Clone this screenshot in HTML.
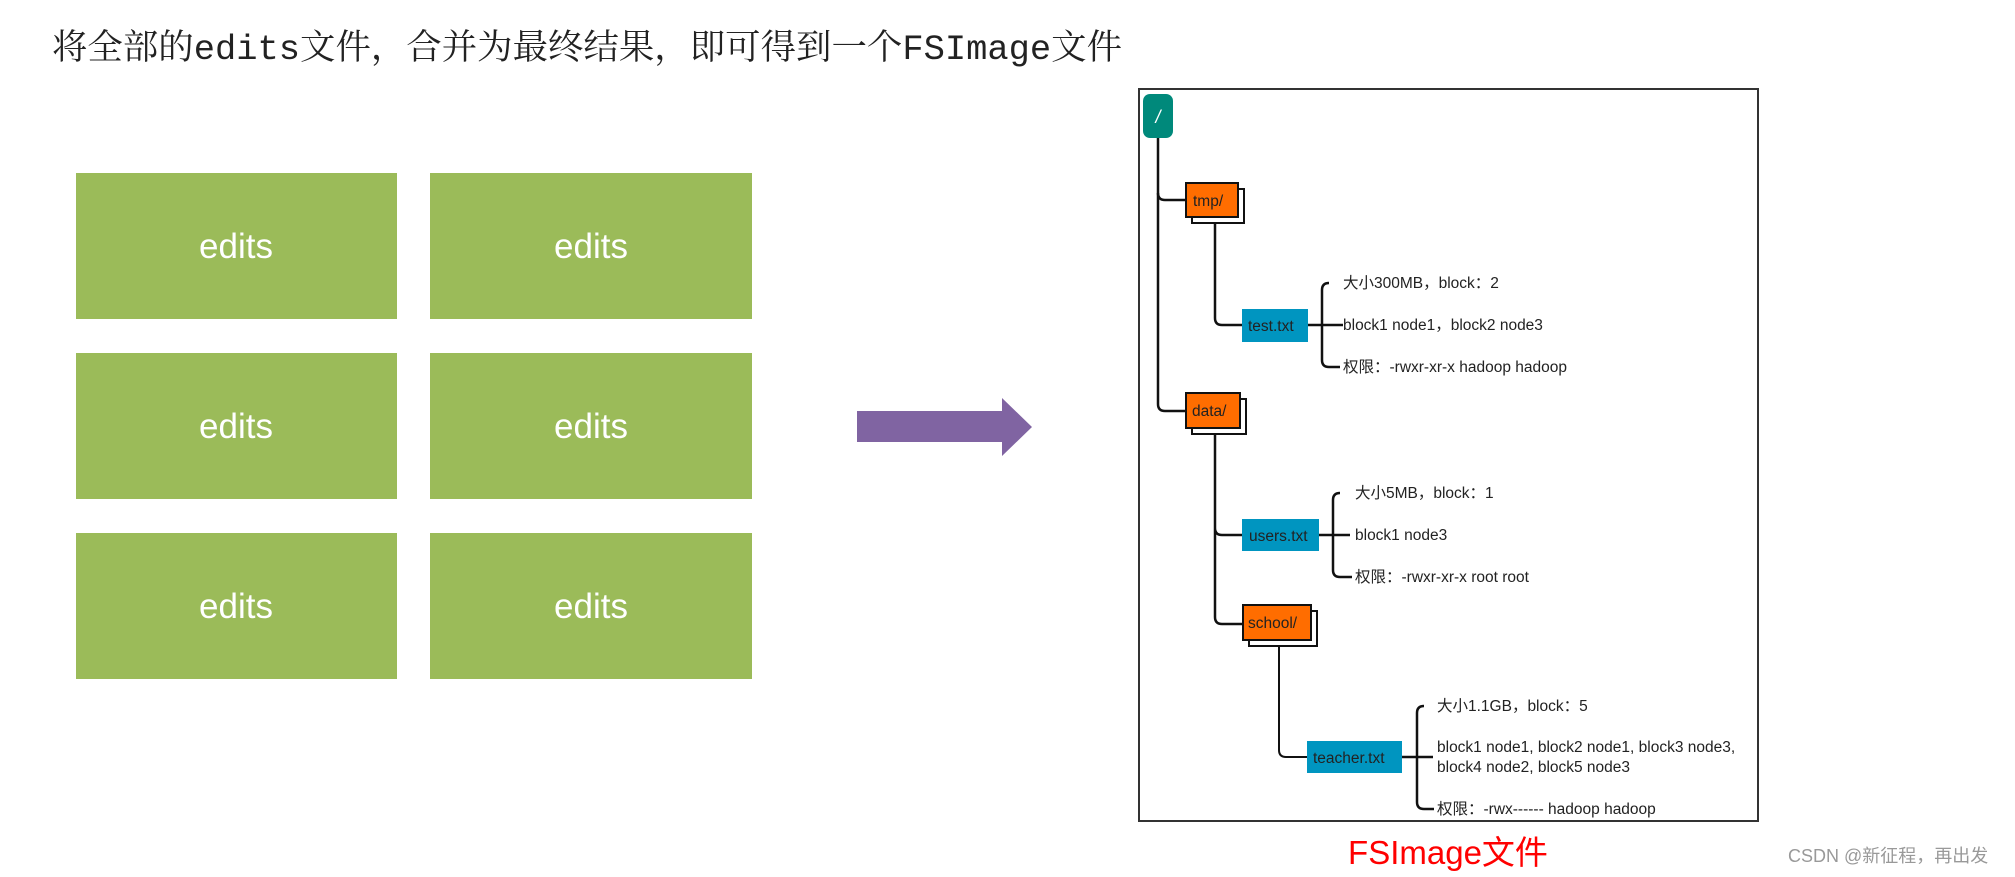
<!DOCTYPE html>
<html><head><meta charset="utf-8"><style>
html,body{margin:0;padding:0;background:#fff;width:2015px;height:877px;overflow:hidden}
</style></head><body>
<svg width="2015" height="877" xmlns="http://www.w3.org/2000/svg">
<text x="52" y="59" font-family="Liberation Mono, Noto Serif CJK SC, monospace" font-size="35" fill="#222" textLength="1070" lengthAdjust="spacingAndGlyphs">将全部的edits文件，合并为最终结果，即可得到一个FSImage文件</text>
<g fill="#9BBB59">
<rect x="76" y="173" width="321" height="146"/><rect x="430" y="173" width="322" height="146"/>
<rect x="76" y="353" width="321" height="146"/><rect x="430" y="353" width="322" height="146"/>
<rect x="76" y="533" width="321" height="146"/><rect x="430" y="533" width="322" height="146"/>
</g>
<g fill="#fff" font-family="Liberation Sans, sans-serif" font-size="35" text-anchor="middle">
<text x="236" y="258">edits</text><text x="591" y="258">edits</text>
<text x="236" y="438">edits</text><text x="591" y="438">edits</text>
<text x="236" y="618">edits</text><text x="591" y="618">edits</text>
</g>
<polygon points="857,411 1002,411 1002,398 1032,427 1002,456 1002,442 857,442" fill="#8064A2"/>
<rect x="1139" y="89" width="619" height="732" fill="none" stroke="#333" stroke-width="2"/>
<g fill="none" stroke="#111" stroke-width="2.5">
<path d="M1158 138 V404 Q1158 411 1165 411 H1186"/>
<path d="M1158 193 Q1158 200 1165 200 H1186"/>
<path d="M1215 223 V318 Q1215 325 1222 325 H1242"/>
<path d="M1308 325 H1343 M1329 283 Q1322 283 1322 290 V360 Q1322 367 1329 367 H1340"/>
<path d="M1215 428 V528 Q1215 535 1222 535 H1242 M1215 528 V617 Q1215 624 1222 624 H1243"/>
<path d="M1319 535 H1350 M1340 493 Q1333 493 1333 500 V570 Q1333 577 1340 577 H1352"/>
<path d="M1279 646 V750 Q1279 757 1286 757 H1307" stroke-width="2"/>
<path d="M1402 757 H1433 M1424 706 Q1417 706 1417 713 V802 Q1417 809 1424 809 H1434"/>
</g>
<rect x="1143" y="94" width="30" height="44" rx="7" fill="#00897B"/>
<text x="1158" y="123" font-family="Liberation Sans,sans-serif" font-size="18" fill="#fff" text-anchor="middle" font-style="italic">/</text>
<g stroke="#111" stroke-width="2">
<rect x="1192" y="189" width="52" height="34" fill="#fff"/><rect x="1186" y="183" width="52" height="34" fill="#FF6D00"/>
<rect x="1192" y="399" width="54" height="35" fill="#fff"/><rect x="1186" y="393" width="54" height="35" fill="#FF6D00"/>
<rect x="1249" y="611" width="68" height="35" fill="#fff"/><rect x="1243" y="605" width="68" height="35" fill="#FF6D00"/>
</g>
<g fill="#0095C0">
<rect x="1242" y="309" width="66" height="33"/><rect x="1242" y="519" width="77" height="32"/><rect x="1307" y="741" width="95" height="32"/>
</g>
<g font-family="Liberation Sans, Noto Sans CJK SC, sans-serif" font-size="15.5" fill="#222">
<text x="1193" y="206">tmp/</text><text x="1192" y="416">data/</text><text x="1248" y="628">school/</text>
<text x="1248" y="331">test.txt</text><text x="1249" y="541">users.txt</text><text x="1313" y="763">teacher.txt</text>
<text x="1343" y="288">大小300MB，block：2</text>
<text x="1343" y="330">block1 node1，block2 node3</text>
<text x="1343" y="372">权限：-rwxr-xr-x hadoop hadoop</text>
<text x="1355" y="498">大小5MB，block：1</text>
<text x="1355" y="540">block1 node3</text>
<text x="1355" y="582">权限：-rwxr-xr-x root root</text>
<text x="1437" y="711">大小1.1GB，block：5</text>
<text x="1437" y="752">block1 node1, block2 node1, block3 node3,</text>
<text x="1437" y="772">block4 node2, block5 node3</text>
<text x="1437" y="814">权限：-rwx------ hadoop hadoop</text>
</g>
<text x="1448" y="864" font-family="Liberation Sans, Noto Sans CJK SC, sans-serif" font-size="33" fill="#FF0000" text-anchor="middle">FSImage文件</text>
<text x="1788" y="862" font-family="Liberation Sans, Noto Sans CJK SC, sans-serif" font-size="18" fill="#999">CSDN @新征程，再出发</text>
</svg>
</body></html>
